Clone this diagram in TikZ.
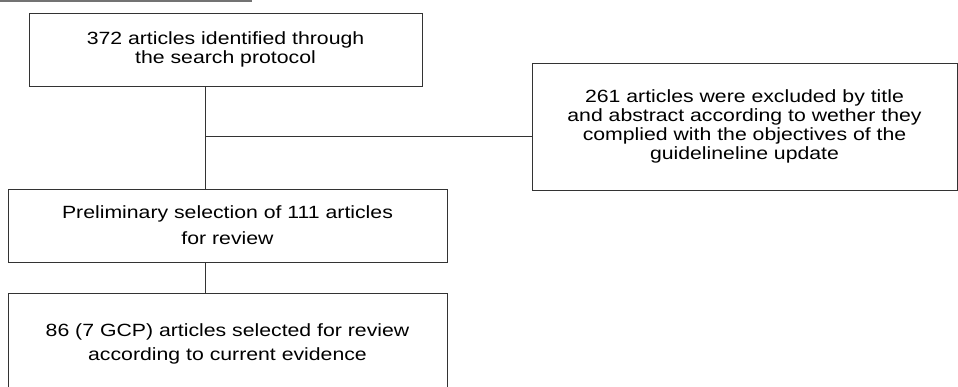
\documentclass[tikz,border=0pt]{standalone}
\usepackage{fontspec}
\setmainfont{Liberation Sans}[FakeStretch=1.2]

\begin{document}
\begin{tikzpicture}[x=1pt,y=-1pt,
    stage/.style={draw=kDark,line width=0.9pt,inner sep=0pt,align=center,
                  font=\fontsize{17.7}{19}\selectfont},
    link/.style={draw=kDark,line width=0.9pt}]
  \definecolor{kDark}{rgb}{0.2,0.2,0.2}
  \definecolor{kGrey}{rgb}{0.45,0.45,0.45}

  \useasboundingbox (0,0) rectangle (958,387);
  \clip (0,0) rectangle (958,387);

  % leftover edge at the top
  \draw[color=kGrey,line width=1.5pt] (0,1) -- (252,1);

  \node[stage,minimum width=393,minimum height=73] (found) at (225.5,49.5)
    {372 articles identified through\\the search protocol};
  \node[stage,minimum width=425,minimum height=127] (excluded) at (744.5,126.5)
    {261 articles were excluded by title\\and abstract according to wether they\\
     complied with the objectives of the\\guidelineline update};
  \node[stage,minimum width=439,minimum height=73,
        font=\fontsize{17.7}{26}\selectfont] (prelim) at (227.5,225.5)
    {Preliminary selection of 111 articles\\for review};
  \node[stage,minimum width=439,minimum height=101,
        font=\fontsize{17.7}{24}\selectfont] (selected) at (227.5,343.5)
    {86 (7 GCP) articles selected for review\\according to current evidence};

  \coordinate (split) at (205,136);
  \draw[link] (found.south -| split) -- (prelim.north -| split);
  \draw[link] (split) -- (split -| excluded.west);
  \draw[link] (prelim.south -| split) -- (selected.north -| split);
\end{tikzpicture}
\end{document}
